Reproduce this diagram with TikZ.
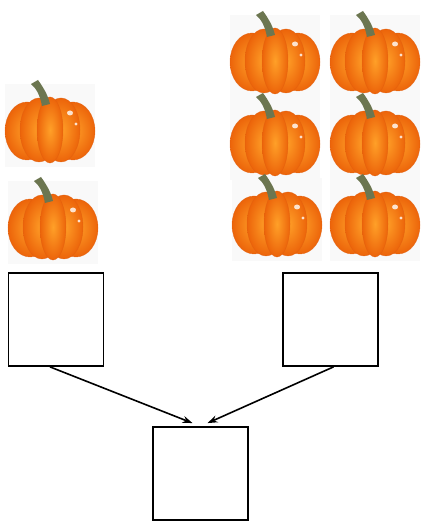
\documentclass[tikz,border=0pt]{standalone}
\usetikzlibrary{arrows.meta}
\definecolor{pumpkinlight}{RGB}{255,160,40}
\definecolor{pumpkindark}{RGB}{236,100,10}
\definecolor{pumpkinedge}{RGB}{225,95,15}
\definecolor{stemgreen}{RGB}{108,118,80}
\tikzset{
box/.style = {rectangle,draw=black,line width=1.8bp,minimum width=95bp,minimum height=93bp},
lobe/.style = {draw=pumpkinedge,draw opacity=0.6,line width=0.5bp,inner color=pumpkinlight,outer color=pumpkindark},
tile/.style = {fill=gray!5},
link/.style = {-{Stealth[length=10bp,width=7bp]},line width=1.6bp},
pumpkin/.pic = {
\fill[tile] (-45,-37) rectangle (45,46);
\shade[lobe] (-23,-1) ellipse [x radius=22, y radius=29];
\shade[lobe] (23,-1) ellipse [x radius=22, y radius=29];
\shade[lobe] (-11,0) ellipse [x radius=19, y radius=32];
\shade[lobe] (11,0) ellipse [x radius=19, y radius=32];
\shade[lobe] (0,0) ellipse [x radius=13, y radius=33];
\fill[stemgreen] (-8,24) .. controls (-10,34) and (-13,41) .. (-19,46) -- (-12,50) .. controls (-7,43) and (-2,35) .. (0,26) -- cycle;
\fill[white,opacity=0.8] (20,17) ellipse [x radius=3, y radius=2.5];
\fill[white,opacity=0.8] (26,6) circle (1.6);
}
}

\begin{document}
\begin{tikzpicture}[x=1bp,y=1bp]
\useasboundingbox (0,0) rectangle (423,521);
% pumpkins
\pic at (50,391) {pumpkin};
\pic at (53,294) {pumpkin};
\pic at (275,460) {pumpkin};
\pic at (375,460) {pumpkin};
\pic at (275,378) {pumpkin};
\pic at (375,378) {pumpkin};
\pic at (277,297) {pumpkin};
\pic at (375,297) {pumpkin};
% boxes
\node[box] (L) at (56,201.5) {};
\node[box] (R) at (330.5,201.5) {};
\node[box] (S) at (200.5,47.5) {};
\draw[link] ([xshift=-6bp]L.south) -- ([xshift=-8bp,yshift=3bp]S.north);
\draw[link] ([xshift=3bp]R.south) -- ([xshift=7bp,yshift=3bp]S.north);
\end{tikzpicture}
\end{document}
